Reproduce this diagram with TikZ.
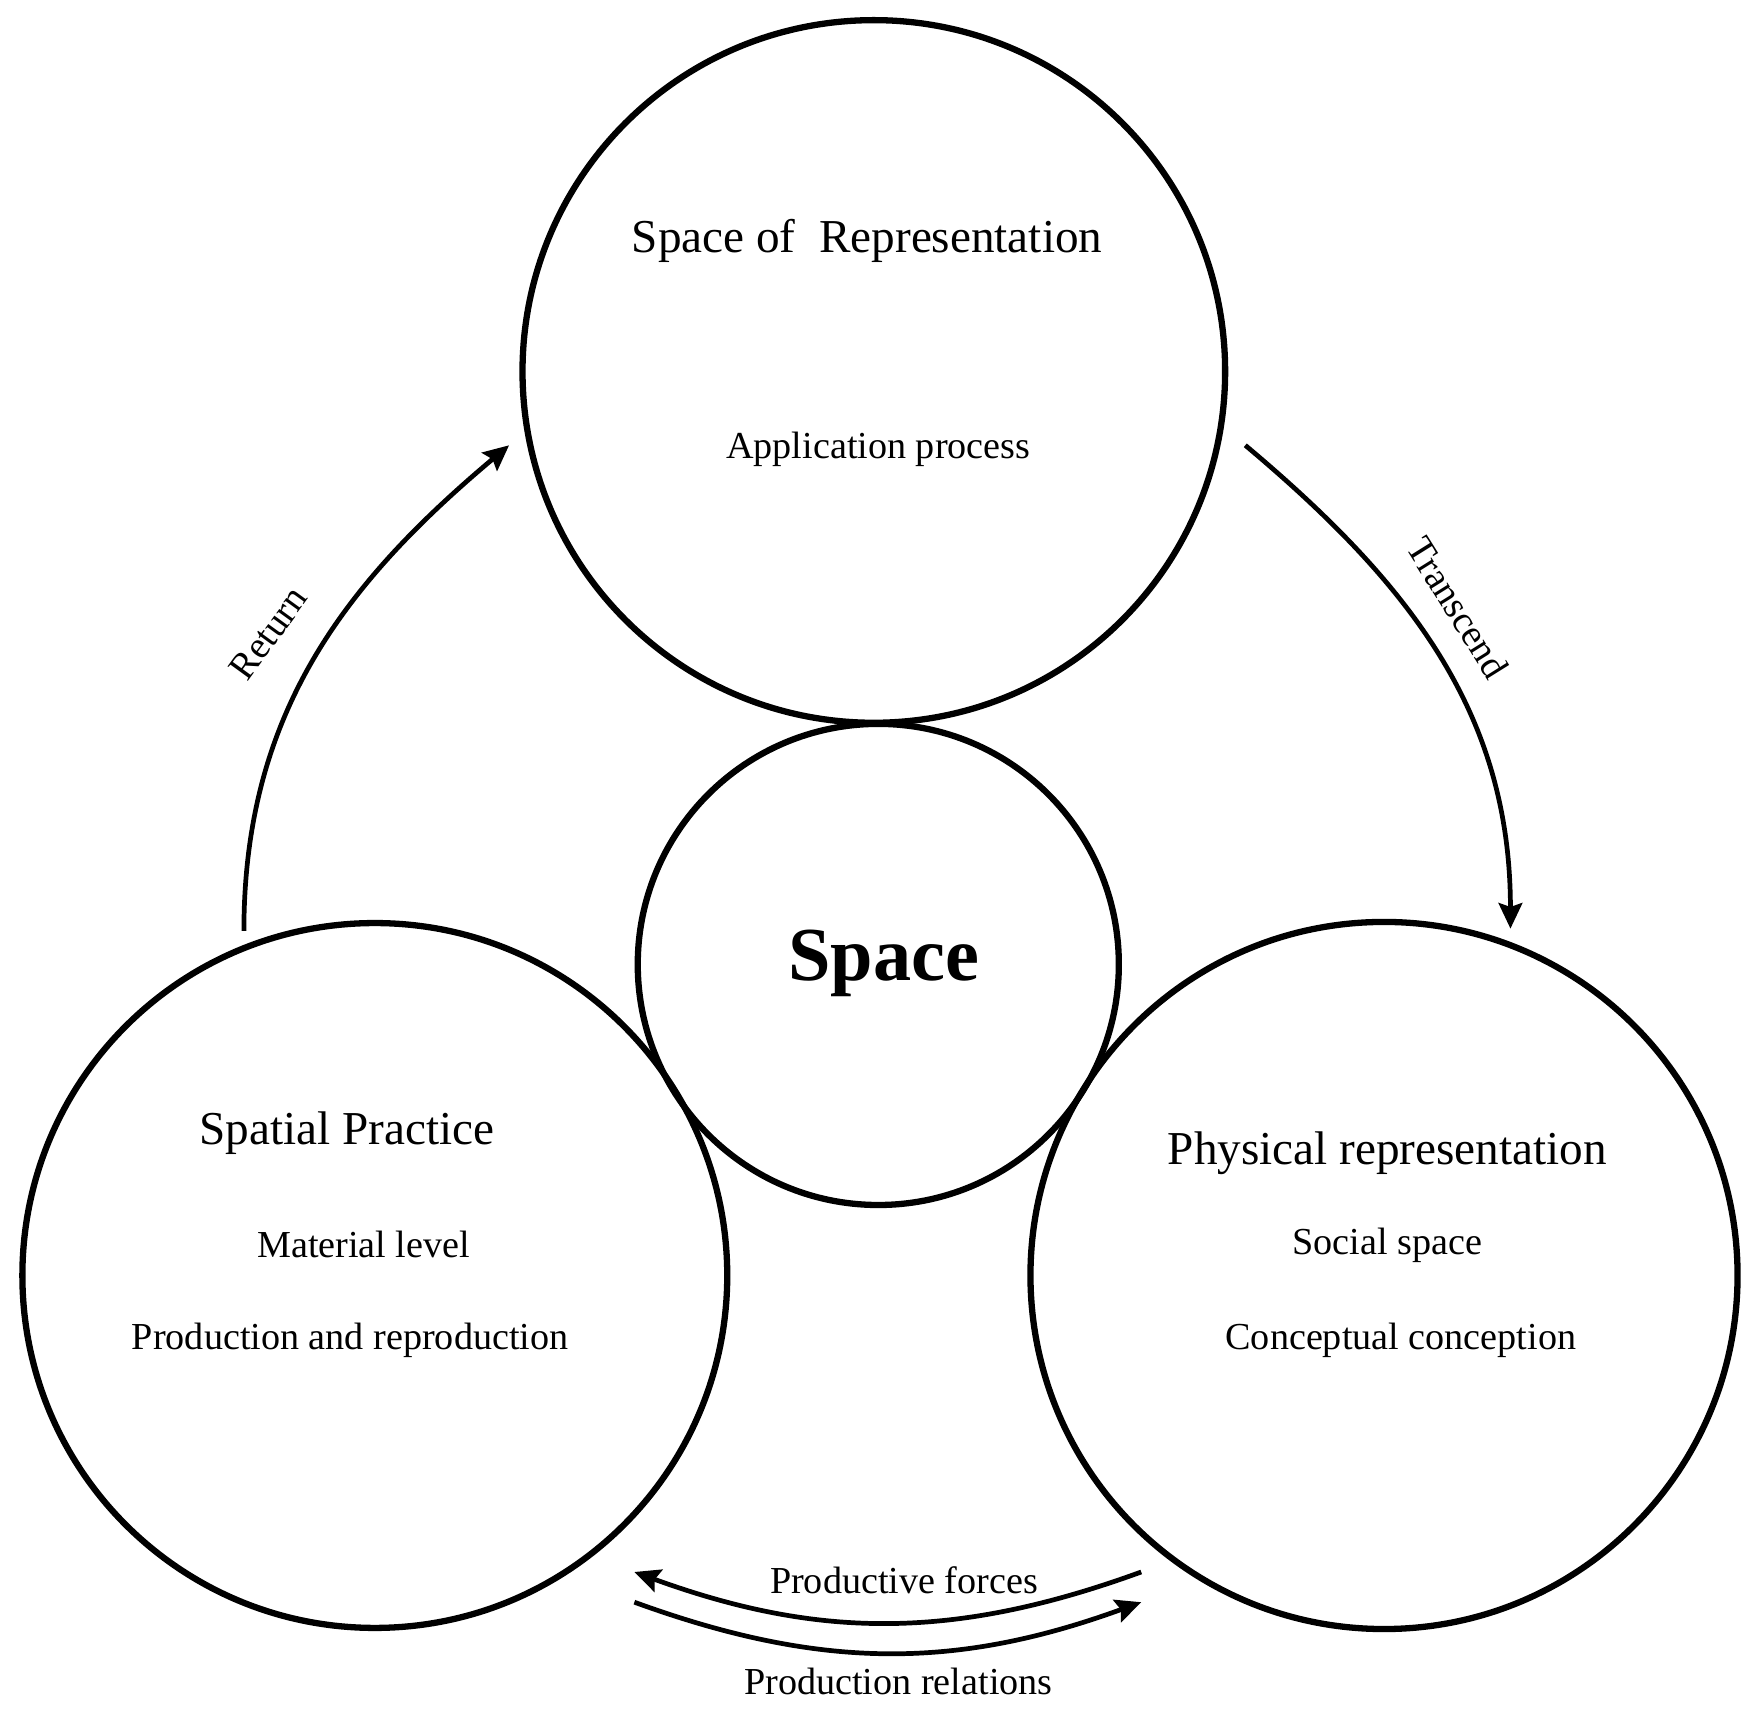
\documentclass[tikz,border=0pt]{standalone}
\usepackage{fontspec}
\setmainfont{Liberation Serif}
\usetikzlibrary{arrows.meta}

\begin{document}
\begin{tikzpicture}
[circleDecorate/.style={shape=circle,inner sep=0pt,draw,line width=1.6pt},%
  titleDecorate/.style={font=\fontsize{12}{14}\selectfont},%
  textDecorate/.style={font=\fontsize{9.7}{12}\selectfont},%
  arrowDecorate/.style={-{Stealth[length=6.5pt,width=6pt,inset=1pt]},line width=1.2pt},%
  x=0.1mm,y=0.1mm]
\useasboundingbox (0,0) rectangle (1565,1536);
%% circles
\foreach \nodename/\x/\y/\d in {spaceRep/781/1204/6.28cm, core/785/674/4.3cm, practice/335/396/6.3cm, physical/1237/396/6.32cm}
{
  \node (\nodename) at (\x,\y) [circleDecorate,minimum size=\d] {};
}
%% texts in the circles
\foreach \nodename/\x/\y/\txt in {spaceRepTitle/775/1321/{Space of \ Representation}, practiceTitle/310/523/Spatial Practice, physicalTitle/1240/505/Physical representation}
{
  \node (\nodename) at (\x,\y) [titleDecorate] {\txt};
}
\foreach \nodename/\x/\y/\txt in {spaceRepText/785/1134/Application process, practiceLevel/325/424/Material level, practiceText/313/338/Production and reproduction, physicalSocial/1240/423/Social space, physicalText/1252/338/Conceptual conception}
{
  \node (\nodename) at (\x,\y) [textDecorate] {\txt};
}
\node (coreText) at (790,675) [font=\bfseries\fontsize{19.4}{22}\selectfont] {Space};
%% free ends of the arrows
\coordinate (returnStart) at (218,704);
\coordinate (returnEnd) at (455,1138);
\coordinate (transStart) at (1113,1138);
\coordinate (transEnd) at (1350,706);
\coordinate (forcesStart) at (1020,131);
\coordinate (forcesEnd) at (567,131);
\coordinate (relStart) at (567,104);
\coordinate (relEnd) at (1020,104);
%% arrows
\path
\foreach \startnode/\endnode/\outangle/\inangle in {returnStart/returnEnd/90/220, transStart/transEnd/-40/90, forcesStart/forcesEnd/200/-20, relStart/relEnd/-20/200}
{
  (\startnode) edge[arrowDecorate,out=\outangle,in=\inangle] (\endnode)
};
%% arrow labels
\node (returnLabel) at (240,970) [textDecorate,rotate=54] {Return};
\node (transLabel) at (1303,993) [textDecorate,rotate=-58] {Transcend};
\node (forcesLabel) at (808,124) [textDecorate] {Productive forces};
\node (relLabel) at (803,33) [textDecorate] {Production relations};
\end{tikzpicture}
\end{document}
